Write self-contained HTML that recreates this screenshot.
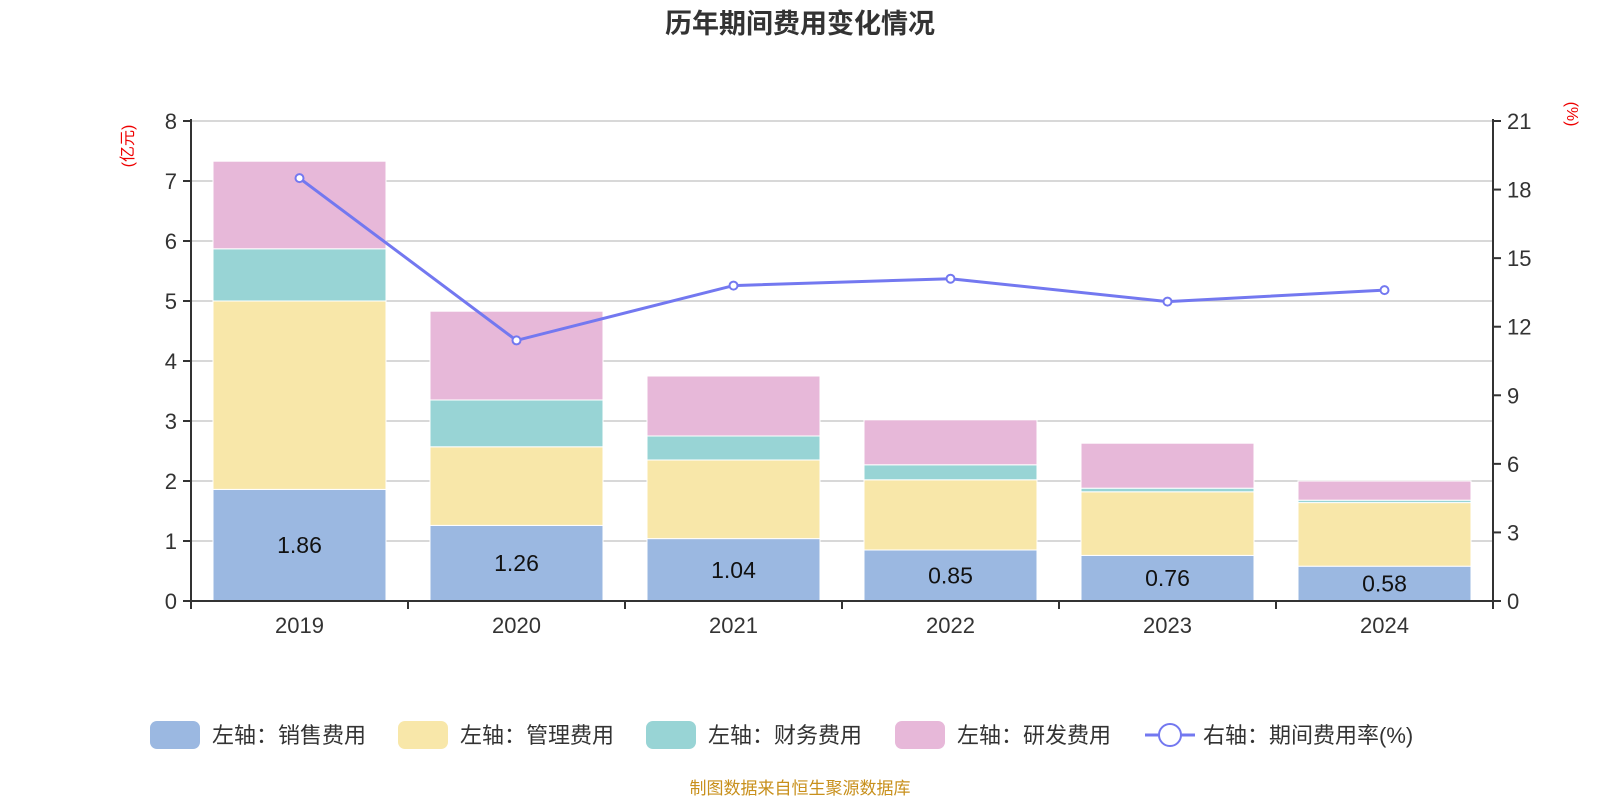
<!DOCTYPE html>
<html><head><meta charset="utf-8"><style>
body{margin:0;background:#fff;}
svg{font-family:"Liberation Sans","Noto Sans CJK SC",sans-serif;}
</style></head><body>
<svg id="c" width="1600" height="800" xmlns="http://www.w3.org/2000/svg">
<text x="800" y="33" text-anchor="middle" font-size="27" font-weight="bold" fill="#333">历年期间费用变化情况</text>
<text transform="translate(133,146) rotate(-90)" text-anchor="middle" font-size="16" fill="#e00">(亿元)</text>
<text transform="translate(1567,114) rotate(90)" text-anchor="middle" font-size="16" fill="#e00">(%)</text>
<g id="grid"></g><g id="bars"></g><g id="axes"></g><g id="line"></g><g id="legend"></g>
<text x="800" y="794" text-anchor="middle" font-size="17" fill="#c8901c">制图数据来自恒生聚源数据库</text>
</svg>
<script>
const years=["2019","2020","2021","2022","2023","2024"];
const sales=[1.86,1.26,1.04,0.85,0.76,0.58];
const mgmt=[3.14,1.31,1.31,1.17,1.06,1.06];
const fin=[0.87,0.78,0.40,0.25,0.06,0.04];
const rnd=[1.46,1.48,1.00,0.75,0.75,0.32];
const rate=[18.5,11.4,13.8,14.1,13.1,13.6];
const leftTicks=[0,1,2,3,4,5,6,7,8];
const rightTicks=[0,3,6,9,12,15,18,21];
const NS="http://www.w3.org/2000/svg";
const X0=191,X1=1493,Y0=601,Y1=121;
const yL=v=>Y0-(v/8)*(Y0-Y1);
const yR=v=>Y0-(v/21)*(Y0-Y1);
const bw=(X1-X0)/years.length;
const xc=i=>X0+bw*(i+0.5);
function mk(tag,attrs,parent,txt){const e=document.createElementNS(NS,tag);for(const k in attrs)e.setAttribute(k,attrs[k]);if(txt!=null)e.textContent=txt;document.getElementById(parent).appendChild(e);return e;}
leftTicks.forEach(v=>{
 if(v>0){const g=mk('line',{x1:X0,x2:X1,y1:yL(v),y2:yL(v),stroke:'#ccc','stroke-width':1.5},'grid');
 
 }
 mk('line',{x1:X0-8,x2:X0,y1:yL(v),y2:yL(v),stroke:'#333','stroke-width':2},'axes');
 const t=mk('text',{x:X0-14,y:yL(v)+8,'text-anchor':'end','font-size':22,fill:'#333'},'axes',v);
 
 
});
rightTicks.forEach(v=>{
 mk('line',{x1:X1,x2:X1+8,y1:yR(v),y2:yR(v),stroke:'#333','stroke-width':2},'axes');
 const t=mk('text',{x:X1+14,y:yR(v)+8,'font-size':22,fill:'#333'},'axes',v);
 
 
});
mk('line',{x1:X0,x2:X0,y1:Y1-2,y2:Y0,stroke:'#333','stroke-width':2},'axes');
mk('line',{x1:X1,x2:X1,y1:Y1-2,y2:Y0,stroke:'#333','stroke-width':2},'axes');
mk('line',{x1:X0,x2:X1,y1:Y0,y2:Y0,stroke:'#333','stroke-width':2},'axes');
for(let i=0;i<=years.length;i++)mk('line',{x1:X0+bw*i,x2:X0+bw*i,y1:Y0,y2:Y0+8,stroke:'#333','stroke-width':2},'axes');
const series=[[sales,'#9bb8e1','sales'],[mgmt,'#f8e7a9','mgmt'],[fin,'#98d4d5','finance'],[rnd,'#e7b8d9','rnd']];
const barW=173;
years.forEach((y,i)=>{
 let acc=0;
 series.forEach(([arr,col,nm])=>{
  const b=mk('rect',{x:xc(i)-barW/2,y:yL(acc+arr[i]),width:barW,height:yL(acc)-yL(acc+arr[i]),fill:col,stroke:'#fff','stroke-width':1},'bars');
  
  
  acc+=arr[i];
 });
 const l=mk('text',{x:xc(i),y:(yL(0)+yL(sales[i]))/2+8,'text-anchor':'middle','font-size':23,fill:'#111'},'bars',sales[i].toFixed(2));
 
 
 const t=mk('text',{x:xc(i),y:633,'text-anchor':'middle','font-size':22,fill:'#333'},'axes',y);
 
 
});
const pl=mk('polyline',{points:rate.map((v,i)=>xc(i)+','+yR(v)).join(' '),fill:'none',stroke:'#7378f0','stroke-width':3},'line');


rate.forEach((v,i)=>{const c=mk('circle',{cx:xc(i),cy:yR(v),r:4,fill:'#fff',stroke:'#7378f0','stroke-width':2},'line');
 
 });
const legs=[['#9bb8e1','左轴：销售费用',150],['#f8e7a9','左轴：管理费用',398],['#98d4d5','左轴：财务费用',646],['#e7b8d9','左轴：研发费用',895]];
legs.forEach(([col,txt,x])=>{
 const r=mk('rect',{x:x,y:721,width:50,height:28,rx:7,fill:col},'legend');
 
 
 const t=mk('text',{x:x+62,y:743,'font-size':22,fill:'#333'},'legend',txt);
 
 
});
mk('line',{x1:1145,x2:1195,y1:735,y2:735,stroke:'#7378f0','stroke-width':3},'legend');
const lc=mk('circle',{cx:1170,cy:735,r:11,fill:'#fff',stroke:'#7378f0','stroke-width':2},'legend');


const lt=mk('text',{x:1203,y:743,'font-size':22,fill:'#333'},'legend','右轴：期间费用率(%)');


</script>
</body></html>
